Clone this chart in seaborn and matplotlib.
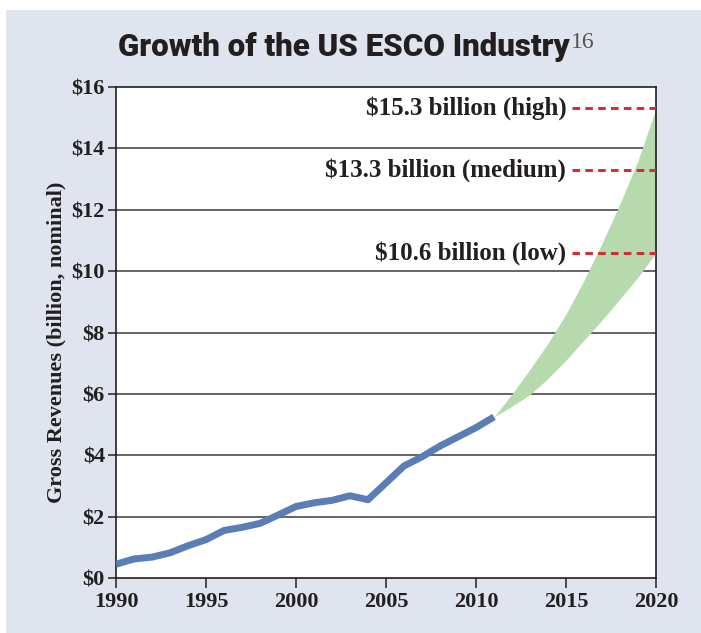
import numpy as np
import pandas as pd
import matplotlib
matplotlib.use("Agg")
import matplotlib.pyplot as plt
from matplotlib.patches import Rectangle
import seaborn as sns

# ---- data ----
hist_years = list(range(1990, 2012))
hist_values = [0.45, 0.62, 0.68, 0.82, 1.05, 1.25, 1.55, 1.65, 1.78, 2.05, 2.33,
               2.45, 2.53, 2.68, 2.55, 3.10, 3.65, 3.95, 4.30, 4.60, 4.90, 5.25]
proj_years = list(range(2011, 2021))
proj_high = [5.25, 6.00, 6.80, 7.65, 8.60, 9.70, 10.90, 12.20, 13.60, 15.30]
proj_low = [5.25, 5.60, 5.98, 6.50, 7.10, 7.75, 8.40, 9.10, 9.80, 10.60]
scen_values = [15.3, 13.3, 10.6]
scen_labels = ["$15.3 billion (high)", "$13.3 billion (medium)", "$10.6 billion (low)"]
x_ticks = [1990, 1995, 2000, 2005, 2010, 2015, 2020]
y_ticks = [0, 2, 4, 6, 8, 10, 12, 14, 16]
y_ticklabels = ["$0", "$2", "$4", "$6", "$8", "$10", "$12", "$14", "$16"]
title = "Growth of the US ESCO Industry"
title_sup = "16"
y_label = "Gross Revenues (billion, nominal)"

sns.set_style("ticks")
plt.rcParams["font.family"] = ["DejaVu Sans"]

W, H = 701, 633
fig = plt.figure(figsize=(W / 100, H / 100), dpi=100)
fig.patch.set_facecolor("white")
panel_col = "#e0e4ef"
fig.add_artist(Rectangle((6 / W, 0), 1 - 6 / W, 1 - 10 / H, transform=fig.transFigure,
                         facecolor=panel_col, edgecolor="none", zorder=0))

L, R, T, B = 116, 656, 87, 578
ax = fig.add_axes([L / W, 1 - B / H, (R - L) / W, (B - T) / H])
ax.set_facecolor("white")

df_hist = pd.DataFrame({"year": hist_years, "value": hist_values})
ax.fill_between(proj_years, proj_low, proj_high, color="#b6d9ae", linewidth=0, zorder=2)
sns.lineplot(data=df_hist, x="year", y="value", ax=ax, color="#5b7db5",
             linewidth=5, zorder=3, solid_capstyle="butt")

ax.set_xlim(1990, 2020)
ax.set_ylim(0, 16)
ax.set_xticks(x_ticks)
ax.set_yticks(y_ticks)
ax.set_yticklabels(y_ticklabels)
for yv in y_ticks[1:-1]:
    ax.axhline(yv, color="#3a3a3a", linewidth=1.1, zorder=1)

serif = ["Liberation Serif", "DejaVu Serif"]
for lab in ax.get_xticklabels() + ax.get_yticklabels():
    lab.set_fontfamily(serif)
    lab.set_fontweight("bold")
    lab.set_fontsize(16)
    lab.set_color("#231f20")
ax.tick_params(axis="x", direction="out", length=7, width=1.1, color="#231f20", pad=3)
ax.tick_params(axis="y", direction="out", length=6, width=1.1, color="#231f20", pad=2)
for s in ax.spines.values():
    s.set_visible(True)
    s.set_color("#231f20")
    s.set_linewidth(1.2)

ax.set_xlabel("")
ax.set_ylabel(y_label, fontfamily=serif, fontweight="bold", fontsize=16, color="#231f20")
ax.yaxis.set_label_coords(-0.092, 0.48)

for v, lab in zip(scen_values, scen_labels):
    ax.axhline(v, xmin=0.845, xmax=1.0, color="#d7282f", linewidth=2.1,
               linestyle=(0, (2.6, 1.8)), zorder=4)
    ax.text(0.834, v, lab, transform=ax.get_yaxis_transform(), ha="right", va="center",
            fontfamily=serif, fontweight="bold", fontsize=18, color="#231f20", zorder=5)

t = fig.text(344 / W, 1 - 47 / H, title, ha="center", va="center", fontfamily=["Roboto", "DejaVu Sans"],
             fontweight=900, fontsize=22.5, color="#231f20")
fig.canvas.draw()
bb = t.get_window_extent()
fig.text(bb.x1 / fig.bbox.width + 0.002, bb.y1 / fig.bbox.height, title_sup, ha="left", va="top",
         fontfamily=serif, fontsize=17, color="#555555")

fig.savefig("out.png", dpi=100, facecolor=fig.get_facecolor())
